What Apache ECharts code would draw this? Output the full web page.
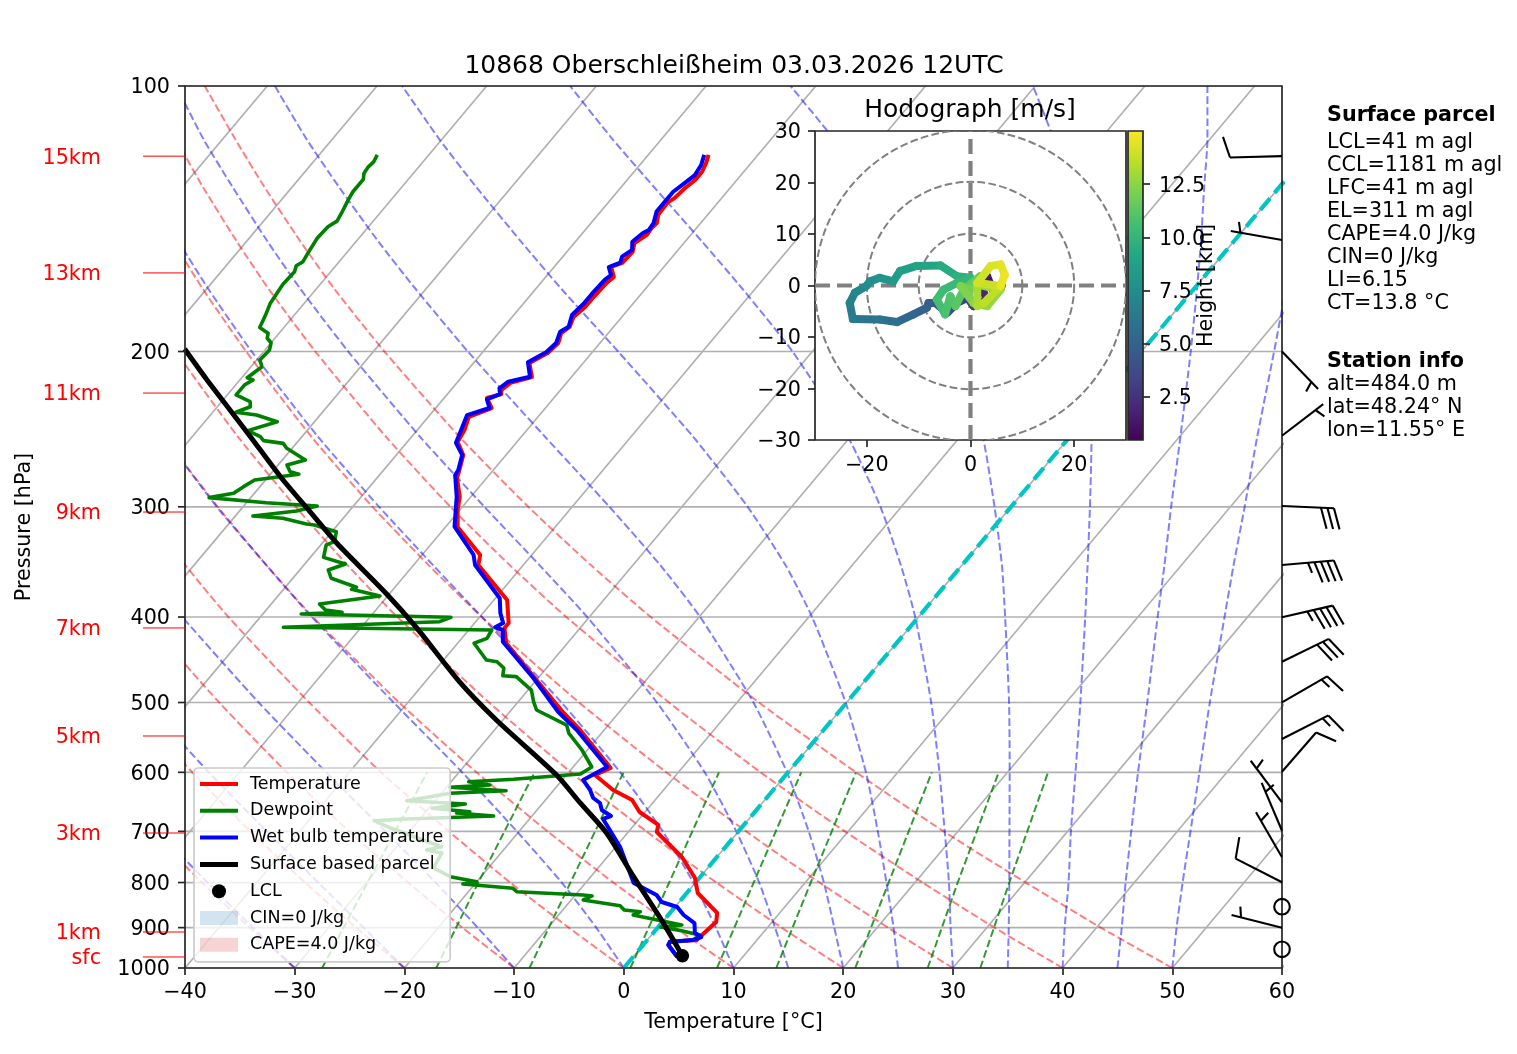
<!DOCTYPE html>
<html><head><meta charset="utf-8">
<style>html,body{margin:0;padding:0;background:#fff}#c{width:1517px;height:1054px}</style>
<script src="https://cdn.jsdelivr.net/npm/echarts@6/dist/echarts.min.js"></script></head>
<body><div id="c"></div>
<script>
const tempP=[119.7,122.3,125.1,127.8,130.5,134.0,135.7,140.0,143.0,144.9,147.5,150.7,154.2,158.7,160.4,164.6,167.2,173.5,178.1,182.8,187.6,190.6,195.6,200.8,206.1,213.8,217.1,221.1,223.5,225.8,231.8,237.3,245.5,253.3,262.0,272.5,278.3,292.4,302.5,316.2,340.2,349.2,382.6,406.3,411.6,428.1,471.5,513.9,537.2,593.3,604.2,628.3,644.9,665.5,688.4,701.1,748.4,790.6,822.2,866.2,886.8,917.5,929.5,933.6,941.7,970.9];
const tempT=[-54.5,-54.1,-53.8,-53.8,-54.1,-54.3,-54.6,-54.5,-54.0,-54.1,-54.0,-54.5,-54.0,-54.1,-54.8,-53.8,-54.0,-54.1,-54.1,-54.4,-54.0,-54.3,-53.8,-54.0,-54.9,-53.6,-55.1,-55.4,-55.1,-56.1,-54.9,-56.3,-55.7,-55.4,-53.9,-53.1,-52.7,-51.0,-50.2,-48.9,-44.7,-44.1,-38.8,-36.9,-36.9,-35.6,-30.0,-25.0,-22.2,-16.5,-17.4,-14.6,-12.1,-10.5,-7.8,-7.4,-3.2,-0.4,1.0,4.3,4.9,4.6,4.5,2.2,2.3,4.0];
const wetP=[119.7,122.9,126.2,128.7,131.8,135.3,138.8,143.0,145.6,146.8,150.2,153.4,156.1,158.6,160.5,163.8,165.9,172.1,176.7,181.8,187.5,189.9,195.6,200.4,205.7,213.6,216.4,220.2,223.5,226.6,231.8,236.1,245.5,253.8,262.0,272.5,276.1,292.2,316.0,340.2,349.2,380.9,396.1,406.3,410.9,413.8,426.6,469.4,512.2,537.2,591.7,612.1,628.3,641.6,650.0,662.0,672.5,677.7,693.9,729.1,801.0,826.5,841.7,852.8,870.8,889.2,912.7,922.3,929.5,933.6,941.7,970.9];
const wetT=[-54.9,-54.4,-54.2,-54.5,-54.9,-54.9,-54.9,-54.3,-54.2,-54.5,-54.8,-54.2,-54.6,-54.3,-55.0,-54.2,-54.4,-54.5,-54.5,-54.7,-54.1,-54.5,-54.0,-54.2,-55.1,-53.8,-55.4,-55.7,-55.2,-56.0,-55.1,-56.6,-56.0,-55.5,-54.0,-53.2,-53.1,-51.3,-49.2,-45.3,-44.4,-39.6,-38.4,-37.4,-37.8,-36.9,-36.0,-30.4,-25.6,-22.5,-16.9,-18.1,-16.7,-15.8,-14.8,-14.1,-12.8,-13.3,-12.1,-9.6,-5.6,-2.6,-1.6,0.2,1.4,3.0,3.8,4.7,4.2,2.2,2.3,4.0];
const dewP=[119.7,121.9,123.5,125.6,127.6,131.8,134.7,139.4,142.3,144.4,148.8,154.8,158.2,159.9,162.4,167.8,176.3,182.2,187.9,190.7,193.2,195.5,199.2,204.5,208.1,214.2,215.4,218.3,224.0,228.0,231.0,234.4,236.1,240.2,245.9,249.8,252.4,254.2,257.5,265.5,269.0,273.7,275.6,279.7,284.6,289.6,292.9,296.8,299.4,303.3,307.3,309.1,313.8,314.6,320.1,328.6,331.4,342.3,348.3,353.8,361.5,370.1,372.1,378.6,386.6,392.7,395.1,396.9,400.3,404.9,410.9,413.8,422.9,428.4,447.5,449.5,456.9,466.2,467.4,484.0,499.0,509.9,530.3,541.5,566.0,591.7,602.6,611.0,614.9,620.2,623.9,629.5,633.8,646.1,651.7,659.1,665.0,667.2,672.5,678.3,680.8,694.4,728.6,734.9,740.7,770.2,787.9,798.3,803.1,812.2,819.4,826.5,828.6,837.3,849.9,859.5,863.3,870.8,880.6,893.8,898.5,907.2,917.5,929.5,933.6,941.7,970.9];
const dewT=[-84.7,-84.5,-84.6,-84.5,-84.1,-84.1,-83.9,-83.5,-83.3,-83.7,-83.8,-83.5,-83.3,-83.6,-83.3,-83.4,-83.1,-82.6,-82.2,-81.0,-80.7,-80.0,-79.6,-79.7,-79.0,-79.5,-78.8,-79.2,-79.2,-77.4,-77.0,-77.9,-75.8,-73.4,-75.4,-73.8,-73.2,-71.2,-70.5,-67.9,-69.2,-68.4,-67.4,-71.0,-71.5,-71.9,-73.8,-68.2,-63.3,-64.8,-68.4,-65.5,-62.9,-62.1,-59.6,-59.0,-59.5,-58.8,-56.3,-57.4,-56.5,-53.5,-53.8,-50.7,-55.6,-54.6,-52.9,-56.5,-42.6,-43.3,-57.1,-37.9,-37.7,-38.5,-36.1,-35.0,-33.9,-33.4,-32.1,-29.7,-28.6,-27.7,-23.8,-23.0,-20.5,-18.3,-18.8,-24.5,-28.4,-26.2,-29.7,-24.3,-29.2,-32.6,-27.0,-29.7,-26.0,-27.1,-23.5,-31.8,-34.0,-31.9,-25.9,-27.0,-25.4,-25.0,-22.8,-20.0,-21.1,-16.2,-15.6,-9.3,-8.4,-8.9,-5.1,-4.4,-2.8,-3.2,-1.0,2.0,0.2,2.4,4.4,4.2,2.2,2.3,4.0];
const parcelP=[968.4,889.9,787.9,703.0,650.0,604.2,523.4,473.6,411.6,375.7,329.7,300.9,277.3,249.8,215.4,198.7];
const parcelT=[4.4,0.2,-6.1,-11.9,-16.6,-20.9,-30.6,-36.9,-44.9,-50.4,-58.7,-64.1,-68.9,-74.7,-83.0,-87.4];
const lclPoint=[4.4,968.4];
const hodoU=[5.8,4.5,3.2,2.3,3.2,0.6,-0.6,-2.6,-4.5,-6.8,-8.1,-8.4,-11.0,-14.2,-17.5,-22.7,-23.3,-22.3,-20.1,-19.4,-17.5,-14.9,-13.6,-10.4,-5.8,-2.6,0.0,-2.6,-5.2,-6.5,-4.9,-3.9,-2.9,-1.3,1.9,0.0,-1.9,0.6,3.2,5.8,1.3,1.3,2.6,5.8,1.3,3.9,5.8,6.6,5.8];
const hodoV=[-0.6,-1.4,1.8,-0.8,-2.7,-4.0,-2.4,-3.4,-5.3,-3.4,-3.4,-4.3,-5.6,-7.1,-6.6,-6.5,-3.4,-1.4,-0.1,0.8,1.5,0.8,2.8,3.8,3.9,1.8,1.5,0.5,-0.8,-2.7,-5.6,-2.1,-4.0,-0.8,1.8,-0.8,-0.1,-3.4,-4.0,-0.8,0.2,-4.0,-3.4,-0.1,0.5,3.8,4.1,2.1,-0.1];
const hodoH=[0.5,1,1.5,2,2.5,3,3.3,3.6,4,4.4,4.7,5,5.3,5.7,6.1,6.5,6.8,7.1,7.4,7.7,8,8.3,8.6,9,9.4,9.7,10,10.2,10.4,10.6,10.8,11,11.2,11.4,11.6,11.9,12.2,12.5,12.7,12.9,13.1,13.3,13.6,13.8,14,14.2,14.4,14.6,14.8];
const hodoTicks=[-30,-20,-10,0,10,20,30];
const colorbarTicks=[2.5,5,7.5,10,12.5];
const heightLabels=['sfc','1km','3km','5km','7km','9km','11km','13km','15km'];
const heightP=[971.7,910.3,703.0,545.7,411.6,304.1,222.9,162.9,120.1];
const pressureTicks=[100,200,300,400,500,600,700,800,900,1000];
const tempTicks=[-110,-100,-90,-80,-70,-60,-50,-40,-30,-20,-10,0,10,20,30,40,50,60];
const windP=[120.1,149.5,200.0,249.2,299.4,349.2,400.3,449.5,499.8,550.0,599.0,648.8,698.8,749.0,799.5,852.1,900.1,952.4];
const windSpeed=[10,5,5,5,30,45,45,30,15,15,10,5,5,5,10,0,5,0];
const windDir=[268.5,280,136,52.5,92.5,85,77,64,60,63,41,323,337,330,297,0,284,0];
const guideLevels=[1000,900,800,700,600,500,400,350,300,250,200,170,150,130,115,100];
const dryCurves=[
[-40.0,-46.9,-54.4,-62.6,-71.6,-81.8,-93.7,-100.4,-107.8,-116.2,-125.9,-132.5,-137.5,-142.9,-147.4,-152.3],
[-30.0,-37.2,-45.0,-53.5,-63.0,-73.6,-86.0,-93.0,-100.7,-109.5,-119.6,-126.5,-131.7,-137.3,-142.0,-147.1],
[-20.0,-27.5,-35.6,-44.5,-54.3,-65.4,-78.3,-85.5,-93.6,-102.7,-113.2,-120.5,-125.8,-131.7,-136.6,-141.9],
[-10.0,-17.8,-26.2,-35.5,-45.7,-57.2,-70.6,-78.1,-86.5,-96.0,-106.9,-114.5,-120.0,-126.1,-131.2,-136.8],
[0.0,-8.1,-16.9,-26.4,-37.1,-49.0,-62.9,-70.7,-79.4,-89.3,-100.6,-108.4,-114.2,-120.6,-125.8,-131.6],
[10.0,1.6,-7.5,-17.4,-28.4,-40.8,-55.2,-63.3,-72.3,-82.5,-94.3,-102.4,-108.4,-115.0,-120.4,-126.4],
[20.0,11.3,1.9,-8.4,-19.8,-32.6,-47.5,-55.9,-65.2,-75.8,-88.0,-96.4,-102.6,-109.4,-115.0,-121.2],
[30.0,21.0,11.3,0.7,-11.1,-24.4,-39.8,-48.5,-58.2,-69.1,-81.6,-90.3,-96.7,-103.8,-109.6,-116.0],
[40.0,30.7,20.7,9.7,-2.5,-16.2,-32.1,-41.1,-51.1,-62.3,-75.3,-84.3,-90.9,-98.2,-104.2,-110.8],
[50.0,40.4,30.1,18.7,6.2,-8.0,-24.4,-33.7,-44.0,-55.6,-69.0,-78.3,-85.1,-92.6,-98.8,-105.7]];
const moistCurves=[
[-40.0,-46.8,-54.2,-62.4,-71.4,-81.7,-93.5,-100.2,-107.6,-116.0,-125.7,-132.4,-137.4,-142.8,-147.3,-152.2],
[-30.0,-36.9,-44.5,-52.9,-62.4,-73.1,-85.4,-92.4,-100.2,-109.0,-119.1,-126.1,-131.3,-136.9,-141.6,-146.8],
[-20.0,-26.8,-34.4,-43.0,-52.8,-63.9,-76.8,-84.1,-92.3,-101.4,-112.0,-119.4,-124.7,-130.7,-135.6,-141.0],
[-10.0,-16.4,-23.7,-32.2,-42.1,-53.6,-67.1,-74.8,-83.3,-92.9,-104.1,-111.7,-117.4,-123.6,-128.8,-134.4],
[0.0,-5.6,-12.2,-20.2,-29.7,-41.3,-55.3,-63.3,-72.4,-82.5,-94.3,-102.4,-108.4,-115.0,-120.4,-126.4],
[10.0,5.3,-0.2,-6.9,-15.3,-26.0,-39.8,-48.1,-57.6,-68.5,-81.1,-89.8,-96.2,-103.3,-109.2,-115.6],
[15.0,10.7,5.8,-0.2,-7.6,-17.3,-30.2,-38.4,-48.0,-59.2,-72.3,-81.4,-88.1,-95.5,-101.7,-108.3],
[20.0,16.1,11.7,6.4,-0.1,-8.5,-19.9,-27.4,-36.6,-47.8,-61.4,-70.9,-78.0,-85.8,-92.3,-99.3],
[25.0,21.5,17.4,12.7,7.1,-0.1,-9.7,-16.0,-24.0,-34.3,-47.7,-57.6,-65.0,-73.3,-80.2,-87.7],
[30.0,26.7,23.1,18.8,13.8,7.7,-0.3,-5.5,-11.9,-20.2,-31.8,-41.1,-48.5,-57.1,-64.4,-72.4],
[35.0,32.0,28.6,24.7,20.2,14.8,7.9,3.7,-1.5,-7.9,-16.6,-23.8,-29.8,-37.3,-44.2,-52.3],
[40.0,37.1,34.0,30.3,26.2,21.3,15.2,11.5,7.2,2.0,-4.8,-10.0,-14.2,-19.4,-24.2,-30.2],
[45.0,42.3,39.2,35.8,31.9,27.4,21.8,18.5,14.6,10.1,4.5,0.3,-3.0,-6.9,-10.2,-14.3],
[50.0,47.3,44.4,41.2,37.5,33.1,27.9,24.8,21.3,17.1,12.1,8.4,5.6,2.3,-0.4,-3.6]];
const mixLevels=[1000,800,600];
const mixCurves=[[-27.5,-29.9,-32.9],[-17.1,-19.8,-23.1],[-8.6,-11.4,-15.0],[0.6,-2.4,-6.3],[8.5,5.3,1.2],[13.9,10.5,6.2],[21.1,17.6,13.1],[27.7,23.9,19.2],[32.5,28.6,23.7]];
const parcelLines=['LCL=41 m agl','CCL=1181 m agl','LFC=41 m agl','EL=311 m agl','CAPE=4.0 J/kg','CIN=0 J/kg','LI=6.15','CT=13.8 °C'];
const stationLines=['alt=484.0 m','lat=48.24° N','lon=11.55° E'];
const viridis=['#440154','#482475','#414487','#355f8d','#2a788e','#21918c','#22a884','#44bf70','#7ad151','#bddf26','#fde725'];
const cbMin=0.47,cbMax=15;

const SKEW=67.5, FF='"DejaVu Sans"', FS=20.7;
const sk=(T,p)=>T+SKEW*Math.log10(1000/p);
const skew=(Ts,Ps)=>Ts.map((T,i)=>[+sk(T,Ps[i]).toFixed(3),Ps[i]]);
const minus=v=>String(v).replace('-','\u2212');
function hex(c){return [1,3,5].map(i=>parseInt(c.substr(i,2),16));}
function vir(h){const t=Math.max(0,Math.min(1,(h-cbMin)/(cbMax-cbMin)))*(viridis.length-1),i=Math.min(viridis.length-2,Math.floor(t)),f=t-i,a=hex(viridis[i]),b=hex(viridis[i+1]);
 return 'rgb('+a.map((v,k)=>Math.round(v+(b[k]-v)*f)).join(',')+')';}
const line=(data,color,width,type,z,name,extra)=>Object.assign({type:'line',name,data,showSymbol:false,symbol:'none',silent:true,animation:false,z:z,clip:true,
  lineStyle:{color,width,type,cap:'butt',join:'round'},itemStyle:{color},emphasis:{disabled:true}},extra||{});
const series=[];
const GRAY='#b0b0b0';
pressureTicks.forEach(p=>series.push(line([[-40,p],[60,p]],GRAY,1.7,'solid',1)));
tempTicks.forEach(T=>series.push(line(skew([T,T],[1000,100]),GRAY,1.7,'solid',1)));
const DASH=[7.7,3.3];
dryCurves.forEach(c=>series.push(line(skew(c,guideLevels),'rgba(255,0,0,0.5)',2,DASH,2,undefined,{smooth:0.2})));
moistCurves.forEach(c=>series.push(line(skew(c,guideLevels),'rgba(0,0,255,0.5)',2,DASH,2,undefined,{smooth:0.2})));
mixCurves.forEach(c=>series.push(line(skew(c,mixLevels),'rgba(0,128,0,0.8)',2,DASH,2)));
series.push(line(skew([0,0],[1000,100]),'#00c5c5',4.2,[15,7],3));
series.push(line(skew(tempT,tempP),'#ff0000',4,'solid',4,'Temperature'));
series.push(line(skew(dewT,dewP),'#008000',3.6,'solid',5,'Dewpoint'));
series.push(line(skew(wetT,wetP),'#0000ff',4,'solid',6,'Wet bulb temperature'));
series.push(line(skew(parcelT,parcelP),'#000000',5,'solid',7,'Surface based parcel',{smooth:0.25}));
series.push({type:'scatter',name:'LCL',data:skew([lclPoint[0]],[lclPoint[1]]),symbol:'circle',symbolSize:13.5,itemStyle:{color:'#000',opacity:1},z:8,silent:true,animation:false});
series.push(line([],'rgba(31,119,180,0.2)',0,'solid',1,'CIN=0 J/kg'));
series.push(line([],'rgba(214,39,40,0.2)',0,'solid',1,'CAPE=4.0 J/kg'));
const EDGE='#262626';
const custom=(o)=>Object.assign({type:'custom',silent:true,animation:false,coordinateSystem:'cartesian2d'},o);
const txt=(x,y,text,align,fill)=>({type:'text',style:{x,y,text,align,verticalAlign:'middle',font:FS+'px '+FF,fill:fill||'#000'}});
series.push(custom({z:9,data:[[-40,100]],renderItem:(ps,api)=>{const a=api.coord([-40,100]),b=api.coord([60,1000]);
  return {type:'rect',shape:{x:a[0],y:a[1],width:b[0]-a[0],height:b[1]-a[1]},style:{fill:'none',stroke:EDGE,lineWidth:1.7}};}}));
series.push(custom({z:9,data:pressureTicks.map(p=>[-40,p]),renderItem:(ps,api)=>{const c=api.coord([-40,api.value(1)]);
  return {type:'group',children:[{type:'line',shape:{x1:c[0]-7,y1:c[1],x2:c[0],y2:c[1]},style:{stroke:EDGE,lineWidth:1.7}},
  txt(c[0]-15,c[1]+2,String(api.value(1)),'right')]};}}));
series.push(custom({z:9,data:heightP.map((p,i)=>[-40,p,i]),renderItem:(ps,api)=>{const c=api.coord([-40,api.value(1)]);
  return {type:'group',children:[{type:'line',shape:{x1:c[0]-42,y1:c[1],x2:c[0],y2:c[1]},style:{stroke:'#ff0000',lineWidth:1}},
  txt(c[0]-84,c[1]+2,heightLabels[api.value(2)],'right','#ff0000')]};}}));
const STAFF=52,SP=6.5,BH=20.8,BW=13;
series.push(custom({z:9,data:windP.map((p,i)=>[60,p,windSpeed[i],windDir[i]]),renderItem:(ps,api)=>{
  const b=api.coord([60,api.value(1)]),sp=api.value(2),th=api.value(3)*Math.PI/180;
  const st={stroke:'#000',lineWidth:2.1,fill:'none'};
  if(sp===0)return {type:'circle',shape:{cx:b[0],cy:b[1],r:7.8},style:st};
  const d=[Math.sin(th),-Math.cos(th)],n=[-d[1],d[0]];
  const pt=(al,pe)=>[b[0]+d[0]*al+n[0]*pe,b[1]+d[1]*al+n[1]*pe];
  const kids=[{type:'polyline',shape:{points:[pt(0,0),pt(STAFF,0)]},style:st}];
  let pos=STAFF,full=Math.floor(sp/10),half=(sp%10)>=5;
  for(let i=0;i<full;i++){kids.push({type:'polyline',shape:{points:[pt(pos,0),pt(pos+BW/2,BH)]},style:st});pos-=SP;}
  if(half){if(full===0)pos-=1.5*SP;kids.push({type:'polyline',shape:{points:[pt(pos,0),pt(pos+BW/4,BH/2)]},style:st});}
  return {type:'group',children:kids};}}));
series.push(custom({xAxisIndex:1,yAxisIndex:1,z:10,data:[[0,0]],renderItem:(ps,api)=>{const a=api.coord([-30,30]),b=api.coord([30,-30]);
  return {type:'rect',shape:{x:a[0],y:a[1],width:b[0]-a[0],height:b[1]-a[1]},style:{fill:'#fff',stroke:EDGE,lineWidth:1.7}};}}));
series.push(custom({xAxisIndex:1,yAxisIndex:1,z:14,data:hodoTicks.map(v=>[-30,v]),renderItem:(ps,api)=>{const v=api.value(1),c=api.coord([-30,v]);
  return txt(c[0]-14,c[1]+2,minus(v),'right');}}));
series.push(custom({xAxisIndex:1,yAxisIndex:1,z:11,clip:true,data:[[10,0],[20,0],[30,0]],renderItem:(ps,api)=>{const c=api.coord([0,0]),e=api.coord([api.value(0),0]);
  return {type:'circle',shape:{cx:c[0],cy:c[1],r:e[0]-c[0]},style:{fill:'none',stroke:'#808080',lineWidth:2,lineDash:[7.7,3.3]}};}}));
series.push(line([[-30,0],[30,0]],'#808080',4.2,[15,7],12,undefined,{xAxisIndex:1,yAxisIndex:1}));
series.push(line([[0,-30],[0,30]],'#808080',4.2,[15,7],12,undefined,{xAxisIndex:1,yAxisIndex:1}));
series.push(custom({xAxisIndex:1,yAxisIndex:1,z:13,clip:true,data:hodoU.map((u,i)=>[u,hodoV[i],hodoH[i],i]),renderItem:(ps,api)=>{
  const i=api.value(3);if(i>=hodoU.length-1)return null;
  const a=api.coord([api.value(0),api.value(1)]),b=api.coord([hodoU[i+1],hodoV[i+1]]);
  return {type:'line',shape:{x1:a[0],y1:a[1],x2:b[0],y2:b[1]},style:{stroke:vir(api.value(2)),lineWidth:8,lineCap:'round'}};}}));
series.push(custom({xAxisIndex:2,yAxisIndex:2,z:11,data:[[0,cbMin]],renderItem:(ps,api)=>{const a=api.coord([0,cbMax]),b=api.coord([1,cbMin]);
  const stops=viridis.map((c,i)=>({offset:i/(viridis.length-1),color:c}));
  return {type:'rect',shape:{x:a[0],y:a[1],width:b[0]-a[0],height:b[1]-a[1]},style:{fill:new echarts.graphic.LinearGradient(0,1,0,0,stops),stroke:EDGE,lineWidth:1.7}};}}));
series.push(custom({xAxisIndex:2,yAxisIndex:2,z:14,data:colorbarTicks.map(v=>[1,v]),renderItem:(ps,api)=>{const v=api.value(1),c=api.coord([1,v]);
  return txt(c[0]+16,c[1]+2,v.toFixed(1),'left');}}));

const lab={color:'#000',fontSize:FS,fontFamily:FF};
const tick={length:7,lineStyle:{color:EDGE,width:1.7}};
const LINE4='path://M0 0L0 0M0 5L38 5L38 9L0 9ZM38 14L38 14', LINE5='path://M0 0L0 0M0 4.5L38 4.5L38 9.5L0 9.5ZM38 14L38 14';
const opt={animation:false,backgroundColor:'#fff',textStyle:{fontFamily:FF},
 title:[
  {text:'10868 Oberschleißheim 03.03.2026 12UTC',left:734,top:54,textAlign:'center',padding:0,textStyle:{fontSize:25,fontWeight:'normal',color:'#000',fontFamily:FF}},
  {text:'Hodograph [m/s]',left:970,top:98,textAlign:'center',padding:0,textStyle:{fontSize:25,fontWeight:'normal',color:'#000',fontFamily:FF}},
  {text:'Surface parcel',left:1327,top:105,padding:0,textStyle:{fontSize:FS,fontWeight:'bold',color:'#000',fontFamily:FF}},
  {text:parcelLines.join('\n'),left:1327,top:131,padding:0,textStyle:{fontSize:FS,lineHeight:23,fontWeight:'normal',color:'#000',fontFamily:FF}},
  {text:'Station info',left:1327,top:351,padding:0,textStyle:{fontSize:FS,fontWeight:'bold',color:'#000',fontFamily:FF}},
  {text:stationLines.join('\n'),left:1327,top:373,padding:0,textStyle:{fontSize:FS,lineHeight:23,fontWeight:'normal',color:'#000',fontFamily:FF}}
 ],
 grid:[{left:185,top:86,width:1097,height:882,outerBoundsMode:'none'},{left:815,top:131,width:311,height:309,outerBoundsMode:'none'},{left:1128,top:131,width:15,height:309,outerBoundsMode:'none'}],
 xAxis:[
  {type:'value',gridIndex:0,min:-40,max:60,interval:10,splitLine:{show:false},axisLine:{show:false,onZero:false},axisTick:tick,
   axisLabel:Object.assign({margin:14,formatter:minus},lab),name:'Temperature [°C]',nameLocation:'middle',nameGap:44,nameTextStyle:lab},
  {type:'value',gridIndex:1,z:14,min:-30,max:30,interval:10,splitLine:{show:false},axisLine:{show:false,onZero:false},
   axisTick:Object.assign({customValues:[-20,0,20]},tick),axisLabel:Object.assign({margin:15,customValues:[-20,0,20],formatter:minus},lab)},
  {type:'value',gridIndex:2,min:0,max:1,show:false}
 ],
 yAxis:[
  {type:'log',logBase:10,gridIndex:0,min:100,max:1000,inverse:true,splitLine:{show:false},minorSplitLine:{show:false},axisLine:{show:false,onZero:false},axisTick:{show:false},axisLabel:{show:false},
   name:'Pressure [hPa]',nameLocation:'middle',nameGap:150,nameTextStyle:lab},
  {type:'value',gridIndex:1,z:14,min:-30,max:30,interval:10,splitLine:{show:false},axisLine:{show:false,onZero:false},axisTick:tick,axisLabel:{show:false}},
  {type:'value',gridIndex:2,z:14,position:'right',min:cbMin,max:cbMax,splitLine:{show:false},axisLine:{show:false,onZero:false},
   axisTick:Object.assign({customValues:colorbarTicks},tick),axisLabel:{show:false},
   name:'Height [km]',nameLocation:'middle',nameGap:53,nameRotate:90,nameTextStyle:lab}
 ],
 legend:{show:true,orient:'vertical',left:194,top:768,z:50,padding:[7,7,8,6],itemWidth:38,itemHeight:14,itemGap:8.8,align:'left',
  backgroundColor:'rgba(255,255,255,0.8)',borderColor:'#cccccc',borderWidth:1.7,borderRadius:4,selectedMode:false,
  textStyle:{fontSize:17.5,color:'#000',fontFamily:FF,padding:[0,0,0,7]},
  data:[{name:'Temperature',icon:LINE4},{name:'Dewpoint',icon:LINE4},{name:'Wet bulb temperature',icon:LINE4},{name:'Surface based parcel',icon:LINE5},{name:'LCL',icon:'circle',itemStyle:{color:'#000',opacity:1}},
   {name:'CIN=0 J/kg',icon:'rect',itemStyle:{color:'rgba(31,119,180,0.2)'}},{name:'CAPE=4.0 J/kg',icon:'rect',itemStyle:{color:'rgba(214,39,40,0.2)'}}]},
 series};
echarts.init(document.getElementById('c'),null,{renderer:'canvas'}).setOption(opt);
</script></body></html>
